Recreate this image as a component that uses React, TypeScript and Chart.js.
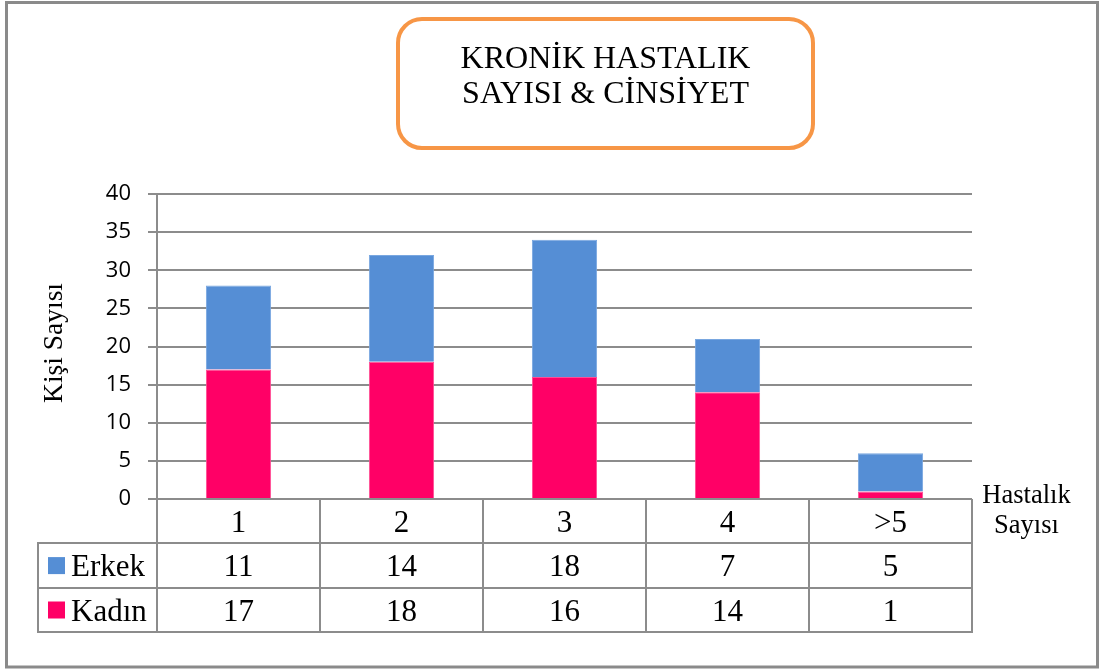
import React, { useEffect, useRef } from "react";
import { Chart, registerables } from "chart.js";

Chart.register(...registerables);

// ---- data ----
const categories = ["1", "2", "3", "4", ">5"];
const erkek = [11, 14, 18, 7, 5];
const kadin = [17, 18, 16, 14, 1];
const seriesNames = ["Erkek", "Kadın"];
const yMin = 0;
const yMax = 40;
const yStep = 5;
const titleLines = ["KRONİK HASTALIK", "SAYISI & CİNSİYET"];
const yTitle = "Kişi Sayısı";
const xTitleLines = ["Hastalık", "Sayısı"];

const BLUE = "#558ED5";
const PINK = "#FF0066";
const GRID = "#8c8c8c";
const SERIF = "'Liberation Serif', 'Times New Roman', serif";
const SANS = "'Open Sans', sans-serif";

const W = 1099;
const H = 670;

const decorPlugin = {
  id: "decor",
  afterDraw(chart: any) {
    const ctx = chart.ctx as CanvasRenderingContext2D;
    const area = chart.chartArea;
    const xs = chart.scales.x;
    const n = categories.length;
    const colW = (area.right - area.left) / n;
    const rowH = 44.4;
    const top = area.bottom;
    const rows = [top, top + rowH, top + 2 * rowH, top + 3 * rowH];
    const legendLeft = 38;

    ctx.save();
    // outer border
    ctx.strokeStyle = "#8a8a8a";
    ctx.lineWidth = 3;
    ctx.strokeRect(6.5, 2.5, 1091, 664.5);

    // title box
    ctx.strokeStyle = "#F79646";
    ctx.lineWidth = 4;
    ctx.beginPath();
    (ctx as any).roundRect(398, 19, 415, 129, 24);
    ctx.stroke();
    ctx.fillStyle = "#000";
    ctx.font = `32px ${SERIF}`;
    ctx.textAlign = "center";
    ctx.textBaseline = "alphabetic";
    ctx.fillText(titleLines[0], 605.5, 67.5);
    ctx.fillText(titleLines[1], 605.5, 102.5);

    // y title
    ctx.save();
    ctx.translate(62, 343);
    ctx.rotate(-Math.PI / 2);
    ctx.font = `27.5px ${SERIF}`;
    ctx.textAlign = "center";
    ctx.fillText(yTitle, 0, 0);
    ctx.restore();

    // x title
    ctx.font = `26.5px ${SERIF}`;
    ctx.textAlign = "center";
    ctx.fillText(xTitleLines[0], 1026.5, 503);
    ctx.fillText(xTitleLines[1], 1026.5, 533);

    // table lines
    ctx.strokeStyle = GRID;
    ctx.lineWidth = 2;
    ctx.beginPath();
    for (let i = 1; i < rows.length; i++) {
      const y = Math.round(rows[i]);
      ctx.moveTo(legendLeft, y);
      ctx.lineTo(area.right, y);
    }
    for (let i = 0; i <= n; i++) {
      const x = i < n ? Math.round(xs.getPixelForValue(i) - colW / 2) : Math.round(area.right);
      ctx.moveTo(x, top);
      ctx.lineTo(x, Math.round(rows[3]) + 1);
    }
    ctx.moveTo(legendLeft, Math.round(rows[1]) - 1);
    ctx.lineTo(legendLeft, Math.round(rows[3]) + 1);
    ctx.stroke();

    // table text
    ctx.fillStyle = "#000";
    ctx.font = `31px ${SERIF}`;
    ctx.textAlign = "center";
    const tableRows = [categories, erkek.map(String), kadin.map(String)];
    for (let r = 0; r < 3; r++) {
      const base = rows[r] + rowH / 2 + 10.5;
      for (let i = 0; i < n; i++) {
        ctx.fillText(tableRows[r][i], xs.getPixelForValue(i), base);
      }
    }

    // legend keys
    const keyColors = [BLUE, PINK];
    for (let r = 0; r < 2; r++) {
      const mid = rows[r + 1] + rowH / 2;
      ctx.fillStyle = keyColors[r];
      ctx.fillRect(48, mid - 8.5, 17, 17);
      ctx.fillStyle = "#000";
      ctx.textAlign = "left";
      ctx.fillText(seriesNames[r], 71, mid + 10.5);
    }
    ctx.restore();
  },
};

export default function App() {
  const ref = useRef<HTMLCanvasElement>(null);

  useEffect(() => {
    document.body.style.margin = "0";
    const canvas = ref.current!;
    const chart = new Chart(canvas, {
      type: "bar",
      data: {
        labels: categories,
        datasets: [
          {
            label: seriesNames[1],
            data: kadin,
            backgroundColor: PINK,
            borderColor: "#ff4d94",
            borderWidth: 1,
            barPercentage: 0.4,
            categoryPercentage: 1,
          },
          {
            label: seriesNames[0],
            data: erkek,
            backgroundColor: BLUE,
            borderColor: "#79a7e0",
            borderWidth: 1,
            barPercentage: 0.4,
            categoryPercentage: 1,
          },
        ],
      },
      options: {
        responsive: false,
        animation: false,
        devicePixelRatio: 1,
        layout: { padding: { left: 0, top: 194, right: 127, bottom: 171 } },
        plugins: {
          legend: { display: false },
          title: { display: false },
          tooltip: { enabled: false },
        },
        scales: {
          x: {
            stacked: true,
            display: false,
          },
          y: {
            stacked: true,
            min: yMin,
            max: yMax,
            ticks: {
              stepSize: yStep,
              color: "#000",
              font: { family: SANS, size: 22 },
              padding: 17,
            },
            grid: {
              color: GRID,
              lineWidth: 2,
              tickLength: 9,
              tickColor: GRID,
            },
            border: { display: true, color: GRID, width: 2 },
            afterFit: (scale: any) => {
              scale.width = 157;
            },
          },
        },
      },
      plugins: [decorPlugin],
    });
    return () => chart.destroy();
  }, []);

  return (
    <div style={{ position: "absolute", left: 0, top: 0, width: W, height: H, background: "#fff" }}>
      <canvas ref={ref} width={W} height={H} style={{ width: W, height: H, display: "block" }} />
    </div>
  );
}
